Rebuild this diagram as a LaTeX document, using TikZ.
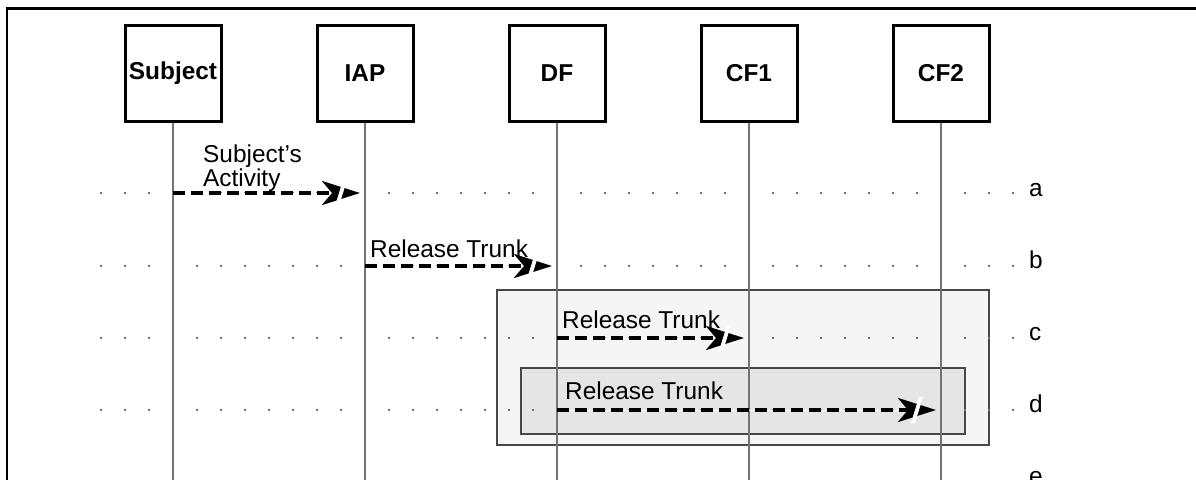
\documentclass[tikz,border=0pt]{standalone}
\usepackage{fontspec}
\setmainfont{Liberation Sans}
\usetikzlibrary{arrows.meta,decorations.markings}
\begin{document}
\begin{tikzpicture}[x=1pt,y=-1pt,
  participant/.style={draw=black, line width=3pt, fill=white, minimum size=96pt, inner sep=0pt,
    font=\fontsize{24.4}{26}\selectfont\bfseries},
  lifeline/.style={draw=black!55, line width=1.5pt},
  framebox/.style={draw=black!72, line width=1.5pt},
  rowdot/.style={fill=black!55},
  msg/.style={line width=4pt, black, dash pattern=on 12pt off 6pt,
    -{Stealth[length=38pt,width=24pt,inset=10pt]}, shorten >=5pt,
    preaction={draw=white, solid, -, shorten >=20pt},
    postaction={decorate},
    decoration={markings, mark=at position -20pt with {
      \fill[white] (-10pt,-13pt) -- (-6pt,-13pt) -- (2pt,13pt) -- (-2pt,13pt) -- cycle;}}},
  msglabel/.style={font=\fontsize{24.4}{24}\selectfont, inner sep=0pt, align=left},
  rowlabel/.style={font=\fontsize{24.4}{26}\selectfont, inner sep=0pt, anchor=base west}]
\useasboundingbox (0,0) rectangle (1196,479);
\clip (0,0) rectangle (1196,479);

% outer frame
\draw[line width=2.5pt] (7,8.5) rectangle (1300,600);

% shaded regions
\draw[framebox, fill=black!4] (497,290) rectangle (989,445);
\draw[framebox, fill=black!10] (521,368) rectangle (965,434);

% dotted rows
\foreach \r in {193,266,338,410,482} {
  \foreach \k in {0,...,38} {
    \fill[rowdot] ({100+24*\k},{\r-1}) rectangle ++(2,2);
  }
}

% participants
\node[participant] (S)  at (173,73) {Subject};
\node[participant] (I)  at (365,73) {IAP};
\node[participant] (D)  at (557,73) {DF};
\node[participant] (C1) at (749,73) {CF1};
\node[participant] (C2) at (941,73) {CF2};

% lifeline ends
\coordinate (S-end)  at (173,490);
\coordinate (I-end)  at (365,490);
\coordinate (D-end)  at (557,490);
\coordinate (C1-end) at (749,490);
\coordinate (C2-end) at (941,490);
\foreach \n in {S,I,D,C1,C2} {
  \draw[lifeline] (\n.south) -- (\n-end);
}

% message points
\coordinate (S-a)  at (173,193);
\coordinate (I-a)  at (365,193);
\coordinate (I-b)  at (365,266);
\coordinate (D-b)  at (557,266);
\coordinate (D-c)  at (557,338);
\coordinate (C1-c) at (749,338);
\coordinate (D-d)  at (557,410);
\coordinate (C2-d) at (941,410);

% messages
\draw[msg] (S-a) -- (I-a);
\draw[msg] (I-b) -- (D-b);
\draw[msg] (D-c) -- (C1-c);
\draw[msg] (D-d) -- (C2-d);

% message labels
\node[msglabel, anchor=south west] (la) at (203,192) {Subject's\\Activity};
\node[msglabel, anchor=base west] (lb) at (370,257) {Release Trunk};
\node[msglabel, anchor=base west] (lc) at (562,328) {Release Trunk};
\node[msglabel, anchor=base west] (ld) at (565,399) {Release Trunk};

% row labels
\node[rowlabel] (ra) at (1029,196) {a};
\node[rowlabel] (rb) at (1029,268) {b};
\node[rowlabel] (rc) at (1029,340) {c};
\node[rowlabel] (rd) at (1029,412) {d};
\node[rowlabel] (re) at (1029,484) {e};
\end{tikzpicture}
\end{document}
